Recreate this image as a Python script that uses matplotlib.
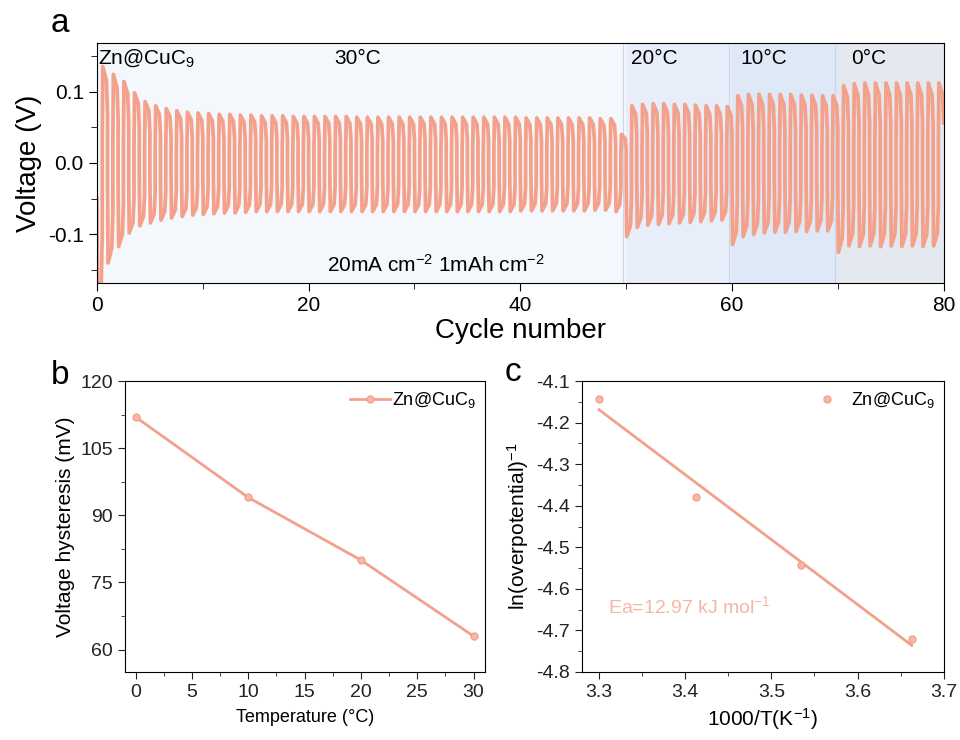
import numpy as np
import matplotlib
matplotlib.use("Agg")
import matplotlib.pyplot as plt
from matplotlib.ticker import MultipleLocator

plt.rcParams['font.family'] = ['Liberation Sans', 'DejaVu Sans']
plt.rcParams['mathtext.fontset'] = 'custom'
plt.rcParams['mathtext.rm'] = 'Liberation Sans'
plt.rcParams['mathtext.it'] = 'Liberation Sans'
plt.rcParams['axes.unicode_minus'] = False

# ---- panel a: peak voltages per cycle (V) ----
# negative half first (k .. k+0.5), then positive half (k+0.5 .. k+1)
pos_peak = [0.135, 0.124, 0.114, 0.098, 0.086, 0.080, 0.076, 0.073, 0.071, 0.070,
            0.069, 0.068, 0.068, 0.067, 0.067, 0.066, 0.066, 0.066, 0.065, 0.065,
            0.065, 0.065, 0.065, 0.065, 0.064, 0.064, 0.064, 0.064, 0.064, 0.064,
            0.064, 0.064, 0.064, 0.064, 0.064, 0.064, 0.064, 0.064, 0.064, 0.064,
            0.063, 0.063, 0.063, 0.063, 0.063, 0.063, 0.063, 0.062, 0.062, 0.040,
            0.080, 0.082, 0.083, 0.083, 0.082, 0.082, 0.081, 0.080, 0.080, 0.079,
            0.094, 0.096, 0.096, 0.096, 0.096, 0.096, 0.095, 0.095, 0.094, 0.094,
            0.108, 0.111, 0.112, 0.112, 0.112, 0.112, 0.112, 0.112, 0.112, 0.112]
neg_peak = [-0.200, -0.140, -0.117, -0.098, -0.088, -0.084, -0.080, -0.077, -0.075, -0.073,
            -0.072, -0.071, -0.070, -0.070, -0.069, -0.068, -0.068, -0.068, -0.068, -0.068,
            -0.068, -0.068, -0.068, -0.068, -0.068, -0.068, -0.068, -0.068, -0.068, -0.068,
            -0.068, -0.068, -0.068, -0.068, -0.068, -0.068, -0.068, -0.068, -0.068, -0.068,
            -0.067, -0.067, -0.067, -0.067, -0.067, -0.067, -0.067, -0.066, -0.066, -0.068,
            -0.103, -0.090, -0.087, -0.086, -0.085, -0.084, -0.083, -0.082, -0.081, -0.080,
            -0.114, -0.103, -0.100, -0.098, -0.097, -0.097, -0.096, -0.096, -0.095, -0.095,
            -0.125, -0.116, -0.117, -0.116, -0.117, -0.116, -0.117, -0.116, -0.117, -0.116]
# shape of one half cycle: (fraction of half, fraction of peak)
half_t = [0.0, 0.1, 0.8, 1.0]
half_v = [0.25, 1.0, 0.85, 0.5]

stages = [0, 50, 60, 70, 80]
stage_labels = ['30°C', '20°C', '10°C', '0°C']
stage_label_x = [22.4, 50.5, 60.8, 71.3]
stage_colors = ['#f4f7fc', '#e7eefa', '#dfe8f6', '#e4e8ef']

# ---- panel b ----
temp_c = [0, 10, 20, 30]
hysteresis = [112, 94, 80, 63]

# ---- panel c ----
inv_t = [3.300, 3.413, 3.534, 3.663]
ln_eta = [-4.142, -4.380, -4.543, -4.720]

line_col = '#f4a18c'

cyc, volt = [], []
for k in range(len(pos_peak)):
    for t, f in zip(half_t, half_v):
        cyc.append(k + 0.5 * t)
        volt.append(neg_peak[k] * f)
    for t, f in zip(half_t, half_v):
        cyc.append(k + 0.5 + 0.5 * t)
        volt.append(pos_peak[k] * f)

fig = plt.figure(figsize=(9.6, 7.4), dpi=100)

ax = fig.add_axes([0.101, 0.6176, 0.882, 0.3244])
for i in range(4):
    ax.axvspan(stages[i], stages[i + 1], color=stage_colors[i], lw=0, zorder=0)
    if i > 0:
        ax.axvline(stages[i] - 0.3, color='#c8d7ec', lw=0.8, zorder=0.5)
    ax.text(stage_label_x[i], 0.146, stage_labels[i], fontsize=15, ha='left', va='center')
ax.plot(cyc, volt, color=line_col, lw=2.7, zorder=2)
ax.text(0.1, 0.146, 'Zn@CuC$_9$', fontsize=15, ha='left', va='center', zorder=3)
ax.text(32, -0.143, '20mA cm$^{-2}$ 1mAh cm$^{-2}$', fontsize=15, ha='center', va='center')
ax.set_xlim(0, 80)
ax.set_ylim(-0.168, 0.168)
ax.xaxis.set_major_locator(MultipleLocator(20))
ax.xaxis.set_minor_locator(MultipleLocator(10))
ax.yaxis.set_major_locator(MultipleLocator(0.1))
ax.yaxis.set_minor_locator(MultipleLocator(0.05))
ax.yaxis.set_major_formatter(matplotlib.ticker.FormatStrFormatter('%.1f'))
ax.tick_params(which='both', direction='out', labelsize=15)
ax.tick_params(which='major', length=6)
ax.tick_params(which='minor', length=4)
ax.set_xlabel('Cycle number', fontsize=20, labelpad=2)
ax.set_ylabel('Voltage (V)', fontsize=20, labelpad=4)
fig.text(0.062, 0.968, 'a', fontsize=24, ha='center', va='center')

# panel b
bx = fig.add_axes([0.130, 0.092, 0.375, 0.393])
bx.plot(temp_c, hysteresis, color=line_col, lw=2, marker='o', ms=5,
        mfc='#f7b8a8', mec=line_col, label='Zn@CuC$_9$')
bx.set_xlim(-0.95, 31.0)
bx.set_ylim(55, 120)
bx.xaxis.set_major_locator(MultipleLocator(5))
bx.xaxis.set_minor_locator(MultipleLocator(2.5))
bx.yaxis.set_major_locator(MultipleLocator(15))
bx.yaxis.set_minor_locator(MultipleLocator(7.5))
bx.tick_params(which='both', direction='out', labelsize=14, colors='#222222')
bx.tick_params(which='major', length=5)
bx.tick_params(which='minor', length=3)
bx.set_xlabel('Temperature (°C)', fontsize=13, labelpad=6)
bx.set_ylabel('Voltage hysteresis (mV)', fontsize=15)
bx.legend(loc='upper right', frameon=False, fontsize=13, handlelength=2.2,
          handletextpad=0.1, borderaxespad=0.1)
fig.text(0.063, 0.492, 'b', fontsize=24, ha='center', va='center')

# panel c
cx = fig.add_axes([0.606, 0.092, 0.377, 0.393])
fit = np.polyfit(inv_t, ln_eta, 1)
xf = np.array([inv_t[0], inv_t[-1]])
cx.plot(xf, np.polyval(fit, xf), color=line_col, lw=2)
cx.plot(inv_t, ln_eta, ls='none', marker='o', ms=5, mfc='#f7b8a8', mec=line_col,
        label='Zn@CuC$_9$')
cx.text(3.31, -4.641, 'Ea=12.97 kJ mol$^{-1}$', color='#f6b6a6', fontsize=14,
        ha='left', va='center')
cx.set_xlim(3.28, 3.7)
cx.set_ylim(-4.8, -4.1)
cx.xaxis.set_major_locator(MultipleLocator(0.1))
cx.xaxis.set_minor_locator(MultipleLocator(0.05))
cx.yaxis.set_major_locator(MultipleLocator(0.1))
cx.yaxis.set_minor_locator(MultipleLocator(0.05))
cx.tick_params(which='both', direction='out', labelsize=14, colors='#222222')
cx.tick_params(which='major', length=5)
cx.tick_params(which='minor', length=3)
cx.set_xlabel('1000/T(K$^{-1}$)', fontsize=15)
cx.set_ylabel('ln(overpotential)$^{-1}$', fontsize=15)
cx.legend(loc='upper right', frameon=False, fontsize=13, handletextpad=0.3,
          borderaxespad=0.1)
fig.text(0.534, 0.497, 'c', fontsize=24, ha='center', va='center')

fig.savefig('out.png', dpi=100)
